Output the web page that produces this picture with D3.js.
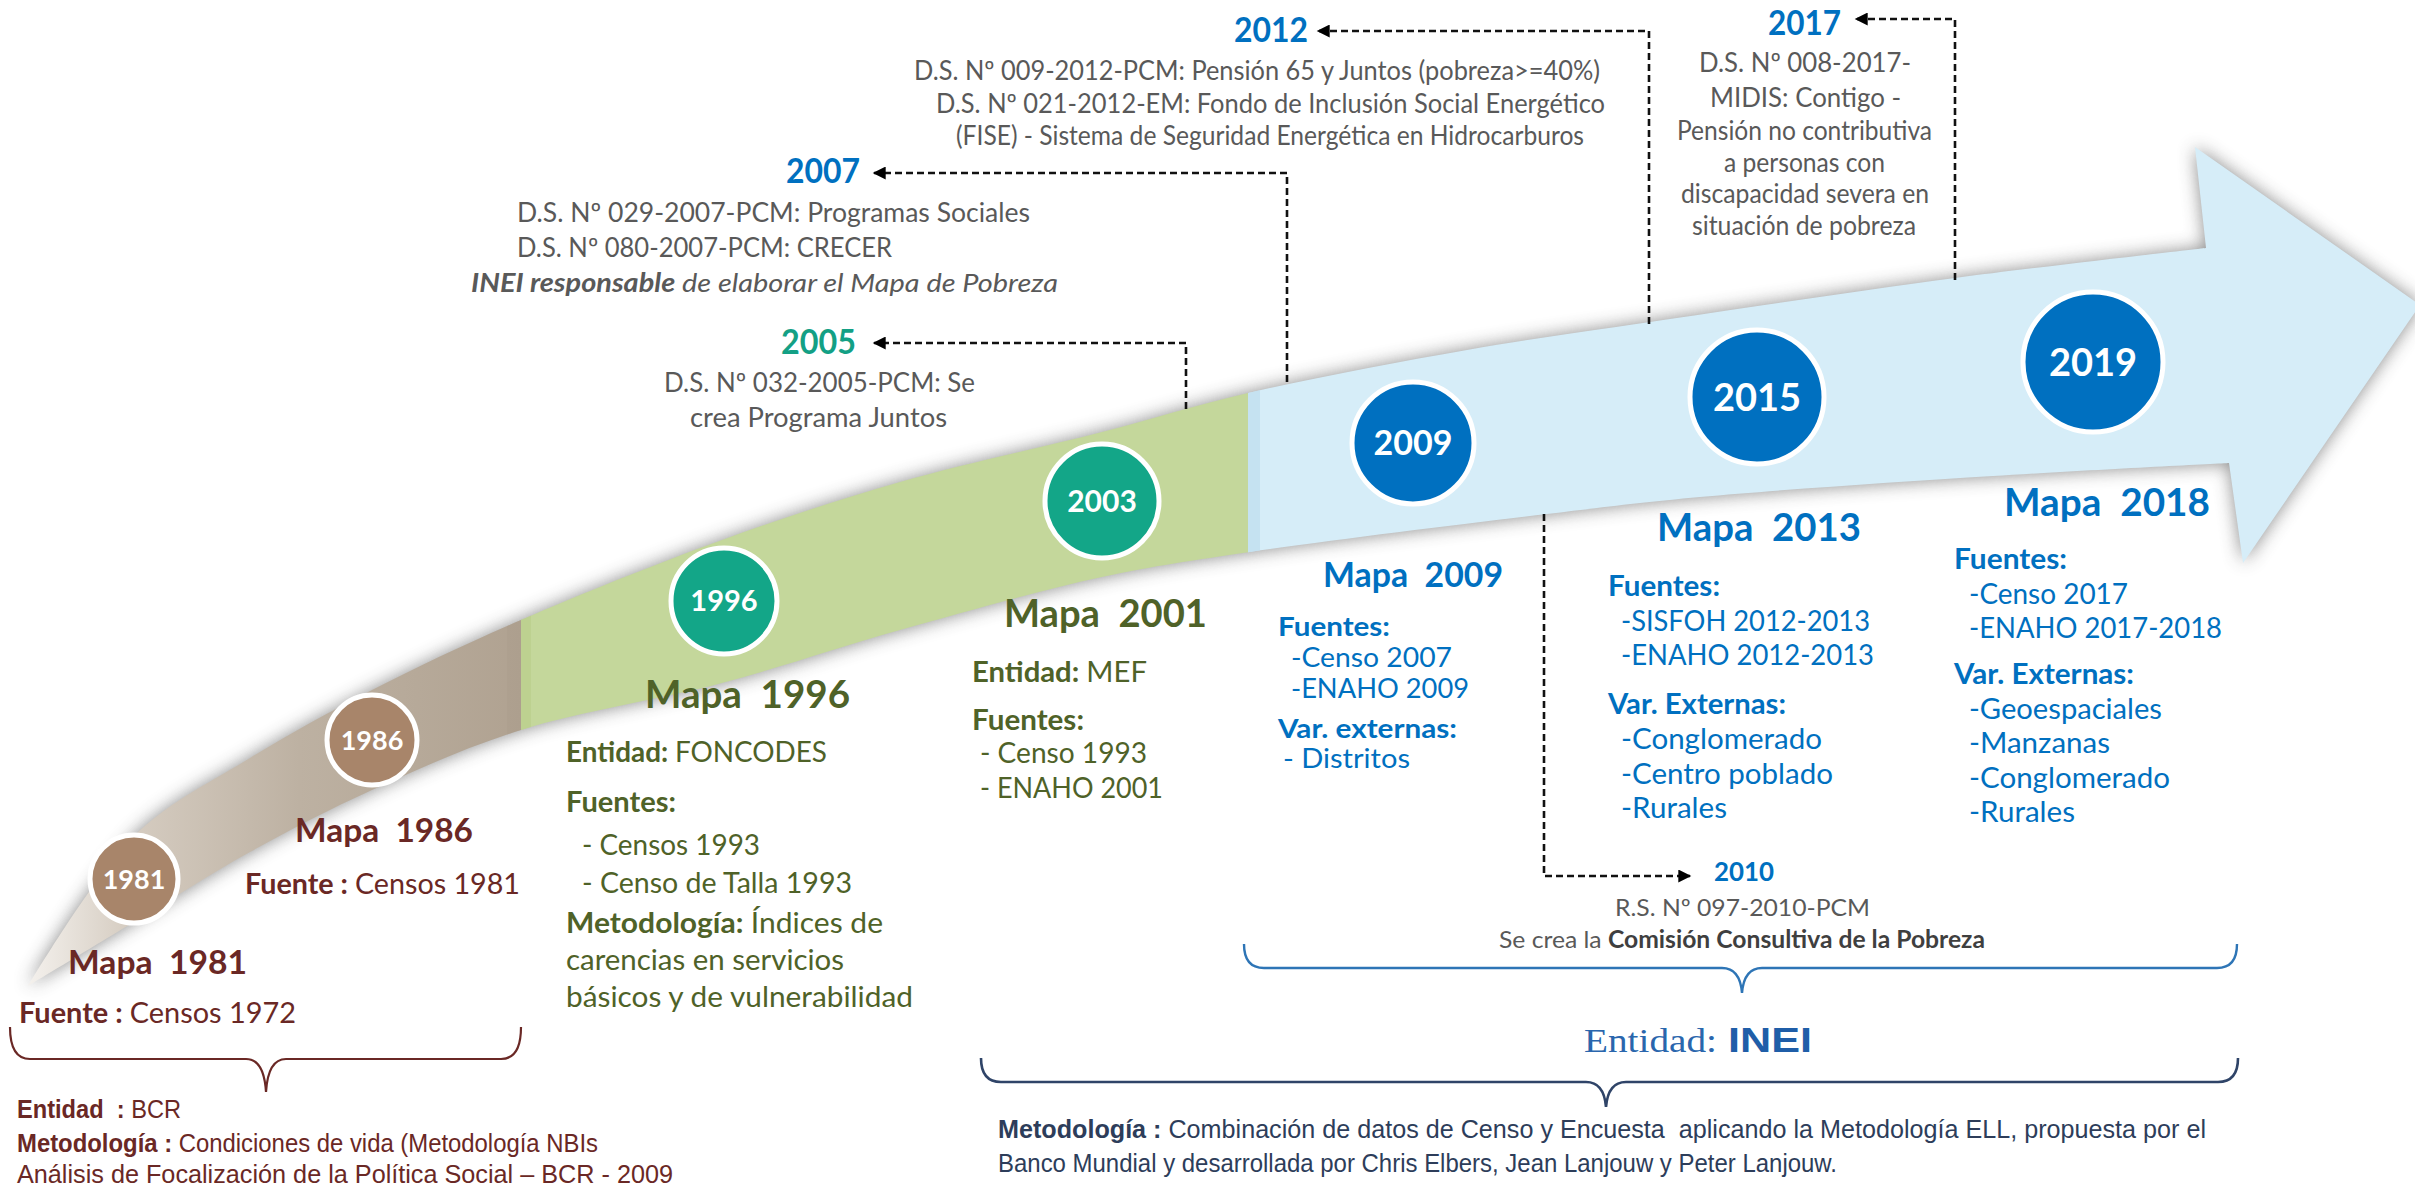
<!DOCTYPE html>
<html><head><meta charset="utf-8">
<script src="https://cdn.jsdelivr.net/npm/d3@7"></script>
<style>
html,body{margin:0;padding:0;background:#fff;}
svg{display:block;}
text{white-space:pre;}
</style></head><body>
<svg id="c" width="2415" height="1192"></svg>
<script>
// ================= DATA =================
const circleYears  = [1981, 1986, 1996, 2003, 2009, 2015, 2019];
const circleEntity = ["BCR", "BCR", "FONCODES", "MEF", "INEI", "INEI", "INEI"];
const mapTitles    = ["Mapa  1981", "Mapa  1986", "Mapa  1996", "Mapa  2001", "Mapa  2009", "Mapa  2013", "Mapa  2018"];
const mapDetails = [
  [[["Fuente : ","b"],["Censos 1972",""]]],
  [[["Fuente : ","b"],["Censos 1981",""]]],
  [[["Entidad: ","b"],["FONCODES",""]], [["Fuentes:","b"]], [["- Censos 1993",""]], [["- Censo de Talla 1993",""]],
   [["Metodología: ","b"],["Índices de",""]], [["carencias en servicios",""]], [["básicos y de vulnerabilidad",""]]],
  [[["Entidad: ","b"],["MEF",""]], [["Fuentes:","b"]], [["- Censo 1993",""]], [["- ENAHO 2001",""]]],
  [[["Fuentes:","b"]], [["-Censo 2007",""]], [["-ENAHO 2009",""]], [["Var. externas:","b"]], [["- Distritos",""]]],
  [[["Fuentes:","b"]], [["-SISFOH 2012-2013",""]], [["-ENAHO 2012-2013",""]], [["Var. Externas:","b"]],
   [["-Conglomerado",""]], [["-Centro poblado",""]], [["-Rurales",""]]],
  [[["Fuentes:","b"]], [["-Censo 2017",""]], [["-ENAHO 2017-2018",""]], [["Var. Externas:","b"]],
   [["-Geoespaciales",""]], [["-Manzanas",""]], [["-Conglomerado",""]], [["-Rurales",""]]]
];
const eventYears  = [2005, 2007, 2010, 2012, 2017];
const eventEntity = ["FONCODES", "INEI", "INEI", "INEI", "INEI"];
const eventLines = [
  [[["D.S. Nº 032-2005-PCM: Se",""]], [["crea Programa Juntos",""]]],
  [[["D.S. Nº 029-2007-PCM: Programas Sociales",""]], [["D.S. Nº 080-2007-PCM: CRECER",""]],
   [["INEI responsable","bi"],[" de elaborar el Mapa de Pobreza","i"]]],
  [[["R.S. Nº 097-2010-PCM",""]], [["Se crea la ",""],["Comisión Consultiva de la Pobreza","b"]]],
  [[["D.S. Nº 009-2012-PCM: Pensión 65 y Juntos (pobreza>=40%)",""]],
   [["D.S. Nº 021-2012-EM: Fondo de Inclusión Social Energético",""]],
   [["(FISE) - Sistema de Seguridad Energética en Hidrocarburos",""]]],
  [[["D.S. Nº 008-2017-",""]], [["MIDIS: Contigo -",""]], [["Pensión no contributiva",""]],
   [["a personas con",""]], [["discapacidad severa en",""]], [["situación de pobreza",""]]]
];
const bcrNote = [
  [["Entidad  : ","b"],["BCR",""]],
  [["Metodología : ","b"],["Condiciones de vida (Metodología NBIs",""]],
  [["Análisis de Focalización de la Política Social – BCR - 2009",""]]
];
const ineiLabel = ["Entidad:", "INEI"];
const ineiNote = [
  [["Metodología : ","b"],["Combinación de datos de Censo y Encuesta  aplicando la Metodología ELL, propuesta por el",""]],
  [["Banco Mundial y desarrollada por Chris Elbers, Jean Lanjouw y Peter Lanjouw.",""]]
];

// ================= LAYOUT / STYLE =================
const entities = ["BCR", "FONCODES", "MEF", "INEI"];
const L = {
  circleX: [134, 372, 724, 1102, 1413, 1757, 2093],
  circleY: [879, 740, 601, 501, 443, 397, 362],
  circleR: [44, 45, 53, 57, 61, 67, 70],
  circleFont: [27, 27, 29, 30, 34, 38, 38],
  bandUpper: [[28,986],[134,836],[250,758],[372,690],[521,620],[722,540],[900,482],[1102,432],[1248,393],[1467,350],[1650,322],[1955,278],[2206,248]],
  bandHead: [[2195,147],[2420,305],[2243,563]],
  bandLower: [[2229,463],[1993,476],[1700,497],[1547,514],[1250,552],[1102,577],[900,630],[722,683],[521,730],[372,790],[250,852],[134,922],[28,986]],
  splits: [521, 1248],
  mapTitle: [
    {x:68,y:974,w:179,fs:32},{x:295,y:842,w:178,fs:32},{x:645,y:708,w:205,fs:39},{x:1004,y:627,w:203,fs:39},
    {x:1323,y:587,w:180,fs:35},{x:1657,y:541,w:204,fs:38},{x:2004,y:516,w:206,fs:38}],
  mapFs: [29, 29, 28, 28, 27, 28, 28],
  mapLines: [
    [{x:19,y:1023,w:277}],
    [{x:245,y:894,w:275}],
    [{x:566,y:762,w:261},{x:566,y:812,w:110},{x:582,y:855,w:178},{x:582,y:893,w:270},{x:566,y:933,w:317},{x:566,y:970,w:278},{x:566,y:1007,w:347}],
    [{x:972,y:682,w:175},{x:972,y:730,w:112},{x:980,y:763,w:167},{x:980,y:798,w:183}],
    [{x:1278,y:636,w:112},{x:1291,y:667,w:161},{x:1291,y:698,w:178},{x:1278,y:738,w:179},{x:1283,y:768,w:127}],
    [{x:1608,y:596,w:112},{x:1621,y:631,w:249},{x:1621,y:665,w:253},{x:1608,y:714,w:178},{x:1621,y:749,w:201},{x:1621,y:784,w:212},{x:1621,y:818,w:106}],
    [{x:1954,y:569,w:113},{x:1969,y:604,w:159},{x:1969,y:638,w:253},{x:1954,y:684,w:180},{x:1969,y:719,w:193},{x:1969,y:753,w:141},{x:1969,y:788,w:201},{x:1969,y:822,w:106}]
  ],
  eventTitle: [{x:781,y:354,w:75,fs:34},{x:786,y:183,w:74,fs:34},{x:1714,y:881,w:60,fs:26},{x:1234,y:42,w:74,fs:34},{x:1768,y:35,w:73,fs:34}],
  eventFs: [26, 26, 24, 26, 26],
  eventLines: [
    [{x:664,y:392,w:311},{x:690,y:427,w:257}],
    [{x:517,y:222,w:513},{x:517,y:257,w:375},{x:471,y:292,w:587}],
    [{x:1615,y:916,w:255},{x:1499,y:948,w:486}],
    [{x:914,y:80,w:686},{x:936,y:113,w:669},{x:956,y:145,w:628}],
    [{x:1699,y:72,w:212},{x:1710,y:107,w:191},{x:1677,y:140,w:255},{x:1724,y:172,w:161},{x:1681,y:203,w:248},{x:1692,y:235,w:224}]
  ],
  connectors: [
    [[1186,409],[1186,343],[874,343]],
    [[1287,382],[1287,173],[874,173]],
    [[1544,514],[1544,876],[1690,876]],
    [[1649,324],[1649,31],[1318,31]],
    [[1955,280],[1955,19],[1856,19]]
  ],
  bcrNote: [{x:17,y:1118,w:164},{x:17,y:1152,w:581},{x:17,y:1183,w:656}],
  bcrBrace: {x1:10, x2:521, yTop:1027, yLine:1059, xMid:266, yTip:1092},
  ineiBrace: {x1:1244, x2:2237, yTop:944, yLine:968, xMid:1742, yTip:993},
  noteBrace: {x1:981, x2:2238, yTop:1058, yLine:1082, xMid:1606, yTip:1107},
  ineiLabel: [{x:1584,y:1052,w:133,fs:34},{x:1728,y:1052,w:84,fs:35}],
  ineiNote: [{x:998,y:1138,w:1208},{x:998,y:1172,w:839}]
};
const circleColor = d3.scaleOrdinal().domain(entities).range(["#a8856a", "#13a688", "#13a688", "#0070c0"]);
const textColor   = d3.scaleOrdinal().domain(entities).range(["#6a2825", "#4f6228", "#4f6228", "#0070c0"]);
const eventColor  = d3.scaleOrdinal().domain(entities).range(["#6a2825", "#13a085", "#13a085", "#0070c0"]);
const GRAY = "#595959";
const SANS = "Lato, 'Open Sans', sans-serif";
const ARIAL = "'Liberation Sans', Arial, sans-serif";
const SERIF = "'Liberation Serif', 'Times New Roman', serif";

// ================= DRAW =================
const svg = d3.select("#c");
const defs = svg.append("defs");

const blur = defs.append("filter").attr("id","shadow").attr("x","-10%").attr("y","-30%").attr("width","120%").attr("height","160%");
blur.append("feGaussianBlur").attr("in","SourceGraphic").attr("stdDeviation",9);

const grad = defs.append("linearGradient").attr("id","brownGrad").attr("gradientUnits","userSpaceOnUse")
  .attr("x1",28).attr("y1",0).attr("x2",L.splits[0]).attr("y2",0);
[[0,"#f4f1ed"],[0.2,"#d6cdc2"],[0.55,"#bdb1a2"],[1,"#b0a291"]].forEach(([o,c])=>grad.append("stop").attr("offset",o).attr("stop-color",c));

defs.append("marker").attr("id","arr").attr("viewBox","0 0 10 10").attr("refX",9).attr("refY",5)
  .attr("markerUnits","userSpaceOnUse").attr("markerWidth",16).attr("markerHeight",13).attr("orient","auto")
  .append("path").attr("d","M0,0 L10,5 L0,10 Z").attr("fill","#000");

// band geometry
const lineGen = d3.line().curve(d3.curveCatmullRom.alpha(0.5));
const upPath = lineGen(L.bandUpper);
const loPath = lineGen(L.bandLower).replace(/^M/,"L");
const headPath = L.bandHead.map(p=>"L"+p[0]+","+p[1]).join("");
const bandD = upPath + headPath + loPath + "Z";

defs.append("clipPath").attr("id","bandClip").append("path").attr("d", bandD);

// shadow
svg.append("path").attr("d", bandD).attr("fill","#7d7d7d").attr("opacity",0.9).attr("filter","url(#shadow)");

const band = svg.append("g").attr("clip-path","url(#bandClip)");
const xSplit = d3.scaleThreshold().domain(L.splits).range(["url(#brownGrad)","#c4d79b","#d6edf8"]);
const segs = [[0, L.splits[0]], [L.splits[0], L.splits[1]], [L.splits[1], 2415]];
band.selectAll("rect.seg").data(segs).join("rect").attr("class","seg")
  .attr("x",d=>d[0]).attr("y",0).attr("width",d=>d[1]-d[0]+0.5).attr("height",1192)
  .attr("fill",d=>xSplit(d[0]));
band.append("rect").attr("x",L.splits[0]-14).attr("y",0).attr("width",14).attr("height",1192).attr("fill","#a89a89").attr("opacity",0.35);
band.append("rect").attr("x",L.splits[0]).attr("y",0).attr("width",10).attr("height",1192).attr("fill","#b5cc86").attr("opacity",0.5);
band.append("rect").attr("x",L.splits[1]).attr("y",0).attr("width",12).attr("height",1192).attr("fill","#b9dbec").attr("opacity",0.6);

// text helper
function drawLine(g, segsT, pos, base) {
  const t = g.append("text").attr("x",pos.x).attr("y",pos.y)
    .attr("font-size",pos.fs || base.fs).attr("font-family",base.ff).attr("fill",base.fill)
    .attr("text-anchor",pos.a || "start");
  segsT.forEach(([s, st, col]) => {
    const ts = t.append("tspan").text(s);
    if (st.includes("b")) ts.attr("font-weight","bold");
    if (st.includes("i")) ts.attr("font-style","italic");
    if (col) ts.attr("fill", col);
  });
  if (pos.w) t.attr("textLength",pos.w).attr("lengthAdjust","spacingAndGlyphs");
  return t;
}

// connectors (dashed arrows)
const connLine = d3.line();
svg.append("g").selectAll("path").data(L.connectors).join("path")
  .attr("d", d=>connLine(d)).attr("fill","none").attr("stroke","#111").attr("stroke-width",2.6)
  .attr("stroke-dasharray","7,4").attr("marker-end","url(#arr)");

// circles
const xS = d3.scaleLinear().domain(circleYears).range(L.circleX);
const yS = d3.scaleLinear().domain(circleYears).range(L.circleY);
const rS = d3.scaleLinear().domain(circleYears).range(L.circleR);
const fS = d3.scaleLinear().domain(circleYears).range(L.circleFont);
const cg = svg.append("g").selectAll("g").data(circleYears).join("g")
  .attr("transform", d=>`translate(${xS(d)},${yS(d)})`);
cg.append("circle").attr("r", d=>rS(d)).attr("fill",(d,i)=>circleColor(circleEntity[i]))
  .attr("stroke","#fff").attr("stroke-width",5);
cg.append("text").text(d=>d).attr("text-anchor","middle").attr("dy","0.36em")
  .attr("font-family",SANS).attr("font-weight","bold").attr("font-size",d=>fS(d)).attr("fill","#fff");

// map titles and details
const mg = svg.append("g");
mapTitles.forEach((title, i) => {
  const col = textColor(circleEntity[i]);
  drawLine(mg, [[title,"b"]], L.mapTitle[i], {fs:30, ff:SANS, fill:col});
  mapDetails[i].forEach((ln, j) => drawLine(mg, ln, L.mapLines[i][j], {fs:L.mapFs[i], ff:SANS, fill:col}));
});

// events
const eg = svg.append("g");
eventYears.forEach((yr, i) => {
  drawLine(eg, [[String(yr),"b"]], L.eventTitle[i], {fs:31, ff:SANS, fill:eventColor(eventEntity[i])});
  eventLines[i].forEach((ln, j) => {
    const segsC = ln.map(s => s[1].includes("b") && i === 2 ? [s[0], s[1], "#3f3f3f"] : s);
    drawLine(eg, segsC, L.eventLines[i][j], {fs:L.eventFs[i], ff:SANS, fill:GRAY});
  });
});

// braces
function braceD(b) {
  const r = 20;
  return `M${b.x1},${b.yTop} Q${b.x1},${b.yLine} ${b.x1+r},${b.yLine} L${b.xMid-r},${b.yLine} Q${b.xMid-2},${b.yLine} ${b.xMid},${b.yTip}` +
         ` Q${b.xMid+2},${b.yLine} ${b.xMid+r},${b.yLine} L${b.x2-r},${b.yLine} Q${b.x2},${b.yLine} ${b.x2},${b.yTop}`;
}
svg.append("path").attr("d", braceD(L.bcrBrace)).attr("fill","none").attr("stroke","#6a2825").attr("stroke-width",2.2);
svg.append("path").attr("d", braceD(L.ineiBrace)).attr("fill","none").attr("stroke","#2e75b6").attr("stroke-width",2.4);
svg.append("path").attr("d", braceD(L.noteBrace)).attr("fill","none").attr("stroke","#2f4468").attr("stroke-width",2.6);

// notes
const ng = svg.append("g");
bcrNote.forEach((ln, j) => drawLine(ng, ln, L.bcrNote[j], {fs:25, ff:ARIAL, fill:"#6a2825"}));
drawLine(ng, [[ineiLabel[0],""]], L.ineiLabel[0], {fs:34, ff:SERIF, fill:"#2a66ad"});
drawLine(ng, [[ineiLabel[1],"b"]], L.ineiLabel[1], {fs:35, ff:ARIAL, fill:"#1f5ea8"});
ineiNote.forEach((ln, j) => drawLine(ng, ln, L.ineiNote[j], {fs:25, ff:ARIAL, fill:"#2d3d5a"}));
</script>
</body></html>
